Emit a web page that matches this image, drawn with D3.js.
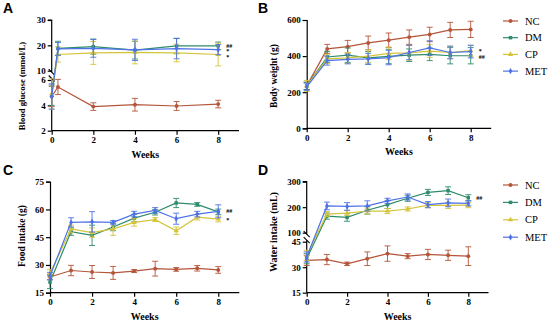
<!DOCTYPE html>
<meta charset="utf-8">
<style>
  body { margin: 0; background: #fff; }
  svg { display: block; }
  .tick text { font: bold 9px "Liberation Serif", "Times New Roman", serif; }
  .ttl { font: bold 10px "Liberation Serif", "Times New Roman", serif; }
  .lbl { font: bold 14px "Liberation Sans", Arial, sans-serif; }
  .leg { font: 10.5px "Liberation Serif", "Times New Roman", serif; }
  .ann { font: bold 6px "Liberation Serif", "Times New Roman", serif; }
</style>
<svg width="550" height="323"></svg>
<script src="https://d3js.org/d3.v7.min.js"></script>
<script>
// ---- data ----
var groups = ["NC", "DM", "CP", "MET"];
var colors = ["#b4553a", "#2e8b6b", "#d4c43a", "#4f72e6"];

// A: blood glucose (mmol/L)
var weeksA = [0, 0.3, 2, 4, 6, 8];
var glucoseNC  = [4.7, 5.45, 3.9, 4.05, 3.95, 4.1];
var glucoseDM  = [4.8, 18.8, 19.5, 18.1, 19.8, 19.8];
var glucoseCP  = [4.9, 16.4, 17.0, 17.2, 17.0, 16.4];
var glucoseMET = [4.7, 18.6, 18.8, 18.2, 18.7, 18.3];
var glucoseNCErr  = [0.8, 0.6, 0.3, 0.5, 0.35, 0.3];
var glucoseDMErr  = [0.8, 2.8, 3.0, 3.5, 3.0, 1.5];
var glucoseCPErr  = [1.2, 3.0, 4.5, 4.5, 3.5, 4.5];
var glucoseMETErr = [1.0, 2.5, 3.5, 4.2, 4.0, 2.0];

// B: body weight (g)
var weeks = [0, 1, 2, 3, 4, 5, 6, 7, 8];
var weightNC  = [235, 440, 452, 473, 488, 505, 520, 545, 548];
var weightDM  = [235, 395, 405, 390, 398, 405, 410, 402, 402];
var weightCP  = [235, 385, 390, 400, 415, 418, 428, 420, 430];
var weightMET = [230, 375, 382, 385, 392, 420, 445, 420, 425];
var weightNCErr  = [20, 25, 35, 38, 40, 40, 40, 42, 45];
var weightDMErr  = [20, 30, 40, 35, 40, 35, 35, 45, 45];
var weightCPErr  = [30, 25, 30, 35, 35, 40, 35, 35, 30];
var weightMETErr = [20, 25, 25, 30, 40, 40, 40, 35, 35];

// C: food intake (g)
var foodNC  = [23.5, 27.0, 26.2, 25.7, 26.7, 28.0, 27.6, 28.2, 27.3];
var foodDM  = [20.7, 48.0, 46.0, 50.5, 55.3, 58.5, 63.5, 62.7, 58.7];
var foodCP  = [25.5, 49.5, 47.5, 49.5, 53.0, 54.5, 48.5, 55.8, 54.8];
var foodMET = [24.0, 53.0, 53.3, 53.0, 57.5, 59.5, 55.0, 57.5, 59.0];
var foodNCErr  = [1.5, 2.8, 3.5, 3.5, 0.8, 4.0, 1.0, 1.5, 1.8];
var foodDMErr  = [3.5, 2.0, 5.5, 2.0, 2.0, 1.5, 2.5, 1.0, 1.5];
var foodCPErr  = [2.0, 2.0, 2.5, 3.5, 2.0, 1.0, 2.0, 1.5, 1.5];
var foodMETErr = [2.0, 2.5, 5.5, 1.0, 1.5, 1.5, 3.0, 1.5, 3.5];

// D: water intake (mL)
var waterNC  = [34, 34.5, 32, 35, 38, 36.5, 37.5, 37, 36.5];
var waterDM  = [35, 165, 160, 188, 210, 235, 258, 265, 237];
var waterCP  = [37, 173, 177, 185, 185, 193, 208, 207, 208];
var waterMET = [36, 205, 203, 205, 225, 240, 210, 217, 215];
var waterNCErr  = [3, 3, 1, 4, 4.5, 1.5, 3, 3, 5.5];
var waterDMErr  = [3, 12, 15, 15, 15, 12, 12, 15, 12];
var waterCPErr  = [3, 10, 10, 12, 10, 8, 10, 12, 10];
var waterMETErr = [3, 15, 15, 20, 10, 12, 12, 15, 10];

var xTicks = [0, 2, 4, 6, 8];

var svg = d3.select("svg");
var symbols = [d3.symbolCircle, d3.symbolSquare, d3.symbolTriangle, d3.symbolDiamond];
var fmt = d3.format("d");

// y mapping for a (possibly) broken axis
function makeY(upper, lower, cut) {
  if (!lower) return upper;
  return function(v) { return v >= cut ? upper(v) : lower(v); };
}

function drawPanel(p) {
  var g = svg.append("g");
  var x = d3.scaleLinear().domain([0, 9]).range(p.xRange);
  var y = makeY(p.yU, p.yL, p.cut);
  var x0 = p.xRange[0];
  var baseY = p.yL ? p.yL.range()[0] : p.yU.range()[0];

  // y axis (one or two pieces)
  var ax = g.append("g").attr("transform", "translate(" + x0 + ",0)");
  var yU = ax.append("g").call(d3.axisLeft(p.yU).tickValues(p.ticksU).tickFormat(fmt).tickSize(4).tickPadding(2));
  if (p.yL) {
    var yL = ax.append("g").call(d3.axisLeft(p.yL).tickValues(p.ticksL).tickFormat(fmt).tickSize(4).tickPadding(2));
    // break marks
    var uEnd = p.yU.range()[0] + 1.5, lEnd = p.yL.range()[1] - 1.5;
    yU.select(".domain").attr("d", "M-4," + p.yU.range()[1] + "H0V" + uEnd);
    yL.select(".domain").attr("d", "M0," + lEnd + "V" + p.yL.range()[0]);
    [uEnd, lEnd].forEach(function(yy) {
      ax.append("line").attr("x1", -3).attr("x2", 3)
        .attr("y1", yy - 3).attr("y2", yy + 3)
        .attr("stroke", "#000").attr("stroke-width", 1.1);
    });
  }
  ax.selectAll(".domain, .tick line").attr("stroke-width", 1.2);

  // x axis
  var xa = g.append("g").attr("transform", "translate(0," + baseY + ")")
    .call(d3.axisBottom(x).tickValues(xTicks).tickSize(4).tickPadding(2).tickFormat(fmt));
  xa.select(".domain").attr("d", "M" + p.xRange[0] + ",0H" + p.xRange[1]);
  xa.selectAll(".domain, .tick line").attr("stroke-width", 1.2);

  // series
  p.series.forEach(function(s, i) {
    var c = colors[i];
    var pts = s.vals.map(function(v, k) { return {x: p.xs[k], v: v, e: s.err[k]}; });
    var sg = g.append("g");
    sg.selectAll("line.err").data(pts).enter().append("line")
      .attr("x1", function(d) { return x(d.x); }).attr("x2", function(d) { return x(d.x); })
      .attr("y1", function(d) { return y(d.v - d.e); }).attr("y2", function(d) { return y(d.v + d.e); })
      .attr("stroke", c).attr("stroke-width", 0.9);
    [-1, 1].forEach(function(sgn) {
      sg.selectAll(null).data(pts).enter().append("line")
        .attr("x1", function(d) { return x(d.x) - 3; }).attr("x2", function(d) { return x(d.x) + 3; })
        .attr("y1", function(d) { return y(d.v + sgn * d.e); }).attr("y2", function(d) { return y(d.v + sgn * d.e); })
        .attr("stroke", c).attr("stroke-width", 0.9);
    });
    sg.append("path").datum(pts)
      .attr("d", d3.line().x(function(d) { return x(d.x); }).y(function(d) { return y(d.v); }))
      .attr("fill", "none").attr("stroke", c).attr("stroke-width", 1.2);
    sg.selectAll("path.pt").data(pts).enter().append("path")
      .attr("transform", function(d) { return "translate(" + x(d.x) + "," + y(d.v) + ")"; })
      .attr("d", d3.symbol().type(symbols[i]).size(12))
      .attr("fill", c);
  });

  // titles
  g.append("text").attr("class", "ttl").attr("text-anchor", "middle")
    .attr("x", (p.xRange[0] + p.xRange[1]) / 2).attr("y", baseY + 27).text("Weeks");
  g.append("text").attr("class", "ttl").attr("text-anchor", "middle")
    .style("font-size", p.titleSize + "px")
    .attr("transform", "translate(" + p.titleX + "," + p.titleY + ") rotate(-90)")
    .text(p.title);
  g.append("text").attr("class", "lbl").attr("x", p.lbl[0]).attr("y", p.lbl[1]).text(p.letter);

  p.ann.forEach(function(a) {
    g.append("text").attr("class", "ann").attr("x", x(8) + 8).attr("y", y(a[1]) + 2).text(a[0]);
  });

  if (p.legendY) {
    var lg = g.append("g").attr("transform", "translate(503," + p.legendY + ")");
    groups.forEach(function(name, i) {
      var r = lg.append("g").attr("transform", "translate(0," + i * p.legendStep + ")");
      r.append("line").attr("x1", 0).attr("x2", 15).attr("stroke", colors[i]).attr("stroke-width", 1.2);
      r.append("path").attr("transform", "translate(7.5,0)")
        .attr("d", d3.symbol().type(symbols[i]).size(12)).attr("fill", colors[i]);
      r.append("text").attr("class", "leg").attr("x", 22).attr("dy", "0.35em").text(name);
    });
  }
}

drawPanel({
  letter: "A", lbl: [3, 13], xRange: [51.7, 239], xs: weeksA,
  yU: d3.scaleLinear().domain([10, 30]).range([70.7, 20]), ticksU: [10, 20, 30],
  yL: d3.scaleLinear().domain([2, 6]).range([130.7, 80]), ticksL: [2, 4, 6], cut: 8,
  title: "Blood glucose (mmol/L)", titleSize: 8.7, titleX: 25, titleY: 86,
  series: [
    {vals: glucoseNC, err: glucoseNCErr}, {vals: glucoseDM, err: glucoseDMErr},
    {vals: glucoseCP, err: glucoseCPErr}, {vals: glucoseMET, err: glucoseMETErr}
  ],
  ann: [["##", 19.9], ["*", 17.7], ["*", 15.5]]
});

drawPanel({
  letter: "B", lbl: [258, 13], xRange: [306.7, 491.2], xs: weeks,
  yU: d3.scaleLinear().domain([0, 600]).range([128.3, 20]), ticksU: [0, 200, 400, 600],
  title: "Body weight (g)", titleSize: 9.5, titleX: 277, titleY: 76,
  series: [
    {vals: weightNC, err: weightNCErr}, {vals: weightDM, err: weightDMErr},
    {vals: weightCP, err: weightCPErr}, {vals: weightMET, err: weightMETErr}
  ],
  ann: [["*", 430], ["##", 396]],
  legendY: 21, legendStep: 16.7
});

drawPanel({
  letter: "C", lbl: [3, 175], xRange: [50, 239.3], xs: weeks,
  yU: d3.scaleLinear().domain([15, 75]).range([292.7, 181.7]), ticksU: [15, 30, 45, 60, 75],
  title: "Food intake (g)", titleSize: 9.5, titleX: 25, titleY: 236,
  series: [
    {vals: foodNC, err: foodNCErr}, {vals: foodDM, err: foodDMErr},
    {vals: foodCP, err: foodCPErr}, {vals: foodMET, err: foodMETErr}
  ],
  ann: [["##", 58.9], ["*", 54.3]]
});

drawPanel({
  letter: "D", lbl: [258, 175], xRange: [306.7, 488.5], xs: weeks,
  yU: d3.scaleLinear().domain([100, 300]).range([232.7, 181.7]), ticksU: [100, 200, 300],
  yL: d3.scaleLinear().domain([15, 45]).range([292.7, 241.7]), ticksL: [15, 30, 45], cut: 70,
  title: "Water intake (mL)", titleSize: 10, titleX: 277, titleY: 232,
  series: [
    {vals: waterNC, err: waterNCErr}, {vals: waterDM, err: waterDMErr},
    {vals: waterCP, err: waterCPErr}, {vals: waterMET, err: waterMETErr}
  ],
  ann: [["##", 237]],
  legendY: 185, legendStep: 17.4
});
</script>
